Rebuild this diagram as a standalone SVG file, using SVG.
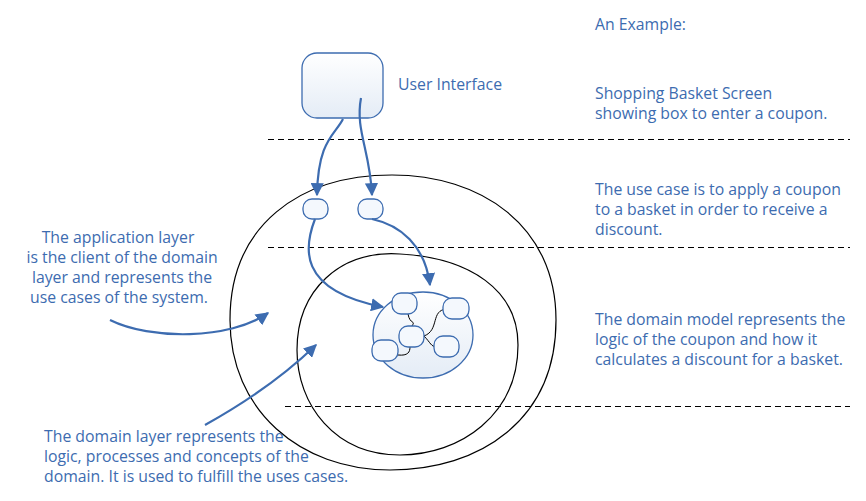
<svg xmlns="http://www.w3.org/2000/svg" width="866" height="501" viewBox="0 0 866 501">
<defs>
<linearGradient id="g" x1="0" y1="0" x2="0" y2="1"><stop offset="0" stop-color="#ffffff"/><stop offset="1" stop-color="#e4ecf6"/></linearGradient>
<marker id="ah" viewBox="0 0 10 10" refX="9" refY="5" markerWidth="6" markerHeight="6" orient="auto" markerUnits="strokeWidth"><path d="M0,0 L10,5 L0,10 z" fill="#3d6cb0"/></marker>
<style>
text{font-family:"Open Sans",sans-serif;font-size:15.8px;fill:#3d6cb0}
.dash{stroke:#000;stroke-width:1;stroke-dasharray:6,4}
.ring{fill:none;stroke:#000;stroke-width:1.2}
.n{fill:#f4f8fd;stroke:#3d6cb0;stroke-width:1.3}
.c{fill:none;stroke:#3d6cb0;stroke-width:2.2;marker-end:url(#ah)}
.l{fill:none;stroke:#000;stroke-width:1}
</style>
</defs>
<g id="separators">
<line class="dash" x1="268" y1="139.5" x2="850" y2="139.5"/>
<line class="dash" x1="268" y1="247.5" x2="850" y2="247.5"/>
<line class="dash" x1="285" y1="406.5" x2="850" y2="406.5"/>
</g>
<g id="app-layer"><path class="ring" d="M392,175 C480,175 556,225 556,320 C556,420 480,470 390,470 C300,470 230,410 230,320 C230,225 300,175 392,175 Z"/></g>
<g id="domain-layer"><path class="ring" d="M400,254 C470,258 518,290 518,345 C518,415 460,455 400,455 C335,455 297,405 297,350 C297,290 340,250 400,254 Z"/></g>
<g id="ui"><rect x="302" y="53" width="81" height="65" rx="15" fill="url(#g)" stroke="#3d6cb0" stroke-width="1.3"/><text x="398" y="90">User Interface</text></g>
<g id="usecase-a"><rect class="n" x="303" y="199" width="25" height="20" rx="9"/></g>
<g id="usecase-b"><rect class="n" x="358" y="199" width="25" height="20" rx="9"/></g>
<g id="domain-model">
<ellipse cx="423" cy="335" rx="50" ry="43" fill="url(#g)" stroke="#3d6cb0" stroke-width="1.3"/>
<path class="l" d="M408,314 C410,325 416,320 412,326"/>
<path class="l" d="M424,336 C440,330 430,310 447,309"/>
<path class="l" d="M424,336 C430,342 432,348 436,346"/>
<path class="l" d="M398,355 C408,356 410,352 410,347"/>
<rect class="n" x="392" y="293" width="25" height="21" rx="9"/>
<rect class="n" x="443" y="298" width="26" height="21" rx="9"/>
<rect class="n" x="399" y="326" width="25" height="21" rx="9"/>
<rect class="n" x="372" y="340" width="26" height="21" rx="9"/>
<rect class="n" x="434" y="336" width="25" height="21" rx="9"/>
</g>
<g id="connectors">
<path class="c" d="M343,119 C335,135 318,140 317,195"/>
<path class="c" d="M361,98 C355,130 370,150 372,195"/>
<path class="c" d="M315,219 C305,245 295,290 383,307"/>
<path class="c" d="M372,219 C400,225 425,245 430,285"/>
<path class="c" d="M110,320 C150,340 230,340 268,313"/>
<path class="c" d="M205,425 C250,400 290,370 316,345"/>
</g>
<g id="labels">
<text x="595" y="30">An Example:</text>
<text x="595" y="99">Shopping Basket Screen</text>
<text x="595" y="119">showing box to enter a coupon.</text>
<text x="595" y="195">The use case is to apply a coupon</text>
<text x="595" y="215">to a basket in order to receive a</text>
<text x="595" y="235">discount.</text>
<text x="595" y="325">The domain model represents the</text>
<text x="595" y="345">logic of the coupon and how it</text>
<text x="595" y="365">calculates a discount for a basket.</text>
<g text-anchor="middle">
<text x="118" y="243">The application layer</text>
<text x="122" y="263">is the client of the domain</text>
<text x="122" y="283">layer and represents the</text>
<text x="119" y="303">use cases of the system.</text>
</g>
<text x="44" y="442">The domain layer represents the</text>
<text x="44" y="462">logic, processes and concepts of the</text>
<text x="44" y="482">domain. It is used to fulfill the uses cases.</text>
</g>
</svg>
